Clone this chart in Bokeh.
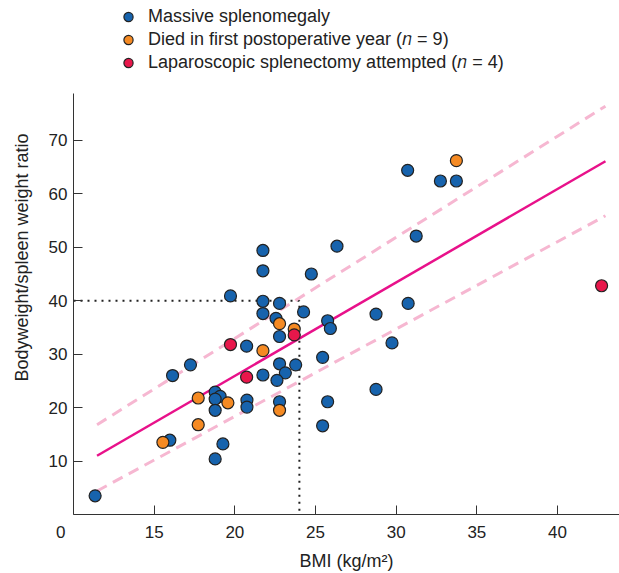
from bokeh.plotting import figure
from bokeh.models import Range1d, Legend, LegendItem, FixedTicker
from bokeh.embed import file_html
from bokeh.resources import INLINE

# ---- data ----
blue_bmi = [21.74, 21.74, 26.33, 24.74, 19.73, 21.74, 22.77, 21.74, 24.26, 22.55,
            22.77, 25.75, 25.92, 20.73, 25.44, 17.25, 22.77, 23.77, 16.14, 21.74,
            23.13, 22.61, 18.78, 19.09, 18.78, 20.75, 20.75, 22.77, 18.78, 25.75,
            25.44, 15.97, 19.26, 18.78, 30.71, 32.74, 33.73, 31.24, 28.75, 30.74,
            29.74, 28.75, 11.34]
blue_ratio = [49.4, 45.6, 50.2, 45.0, 40.9, 39.9, 39.5, 37.6, 37.9, 36.7,
              33.3, 36.25, 34.8, 31.5, 29.4, 28.0, 28.2, 28.0, 26.0, 26.1,
              26.5, 25.1, 22.9, 22.1, 21.6, 21.4, 20.1, 21.1, 19.5, 21.1,
              16.6, 13.9, 13.2, 10.4, 64.4, 62.4, 62.4, 52.1, 37.5, 39.5,
              32.1, 23.4, 3.5]
orange_bmi = [22.77, 23.68, 21.74, 17.73, 19.57, 22.77, 17.73, 15.54, 33.73]
orange_ratio = [35.7, 34.7, 30.65, 21.8, 20.9, 19.5, 16.8, 13.5, 66.2]
red_bmi = [23.68, 19.73, 20.73, 42.73]
red_ratio = [33.6, 31.8, 25.7, 42.8]

fit_bmi = [11.46, 42.97]
fit_ratio = [11.0, 66.1]
ci_upper = [16.8, 76.4]
ci_lower = [4.4, 55.9]

threshold_bmi = 24.0
threshold_ratio = 40.0

x_ticks = [10, 15, 20, 25, 30, 35, 40]
x_tick_text = {10: "0\u2003\u2002"}
y_ticks = [10, 20, 30, 40, 50, 60, 70]
y_axis_top = 78.8

labels = ["Massive splenomegaly",
          "Died in first postoperative year (\U0001D45B = 9)",
          "Laparoscopic splenectomy attempted (\U0001D45B = 4)"]

FONT = "Liberation Sans"
BLUE = "#1763ad"
ORANGE = "#f58a23"
RED = "#e8174b"

# frame spans the full height; the y axis line stops at y_axis_top,
# the space above it holds the legend
p = figure(width=619, height=573, output_backend="svg", toolbar_location=None,
           x_range=Range1d(10, 43.84), y_range=Range1d(0, 96.17),
           min_border_left=73, min_border_right=0, min_border_top=0,
           min_border_bottom=58)
p.outline_line_color = None
p.grid.visible = False
p.background_fill_color = "white"
p.border_fill_color = "white"

for ax in (p.xaxis[0], p.yaxis[0]):
    ax.axis_line_color = "#333333"
    ax.major_tick_line_color = "#333333"
    ax.major_tick_in = 9
    ax.major_tick_out = 0
    ax.minor_tick_line_color = None
    ax.major_label_text_font = FONT
    ax.major_label_text_font_size = "17px"
    ax.major_label_text_color = "#222222"
    ax.axis_label_text_font = FONT
    ax.axis_label_text_font_size = "18px"
    ax.axis_label_text_font_style = "normal"
    ax.axis_label_text_color = "#222222"

p.xaxis.ticker = FixedTicker(ticks=x_ticks)
p.xaxis.major_label_overrides = x_tick_text
p.yaxis.ticker = FixedTicker(ticks=y_ticks)
p.yaxis.bounds = (0, y_axis_top)
p.xaxis.axis_label = "BMI (kg/m\u00b2)"
p.yaxis.axis_label = "Bodyweight/spleen weight ratio"
p.xaxis.major_label_standoff = 8
p.xaxis.axis_label_standoff = 6
p.yaxis.major_label_standoff = 6
p.yaxis.axis_label_standoff = 14

# threshold dotted lines
p.line([p.x_range.start, threshold_bmi, threshold_bmi],
       [threshold_ratio, threshold_ratio, 0],
       line_color="#222222", line_width=2, line_dash="2 5")

# confidence bands
p.line(fit_bmi, ci_upper, line_color="#f6b7d1", line_width=3, line_dash="11 7")
p.line(fit_bmi, ci_lower, line_color="#f6b7d1", line_width=3, line_dash="11 7")
# regression line
p.line(fit_bmi, fit_ratio, line_color="#e8118a", line_width=2.5)

rb = p.scatter(blue_bmi, blue_ratio, size=12, fill_color=BLUE, line_color="#222222", line_width=1.2)
ro = p.scatter(orange_bmi, orange_ratio, size=12, fill_color=ORANGE, line_color="#222222", line_width=1.2)
rr = p.scatter(red_bmi, red_ratio, size=12, fill_color=RED, line_color="#222222", line_width=1.2)

legend = Legend(items=[LegendItem(label=labels[0], renderers=[rb]),
                       LegendItem(label=labels[1], renderers=[ro]),
                       LegendItem(label=labels[2], renderers=[rr])],
                location=(41, 440), padding=0, margin=0, spacing=0,
                glyph_width=28, glyph_height=23, label_height=23,
                label_standoff=6, border_line_color=None,
                background_fill_alpha=0,
                label_text_font=FONT, label_text_font_size="18px",
                label_text_color="#222222")
p.add_layout(legend, "center")

open("out.html", "w").write(file_html(p, INLINE))
